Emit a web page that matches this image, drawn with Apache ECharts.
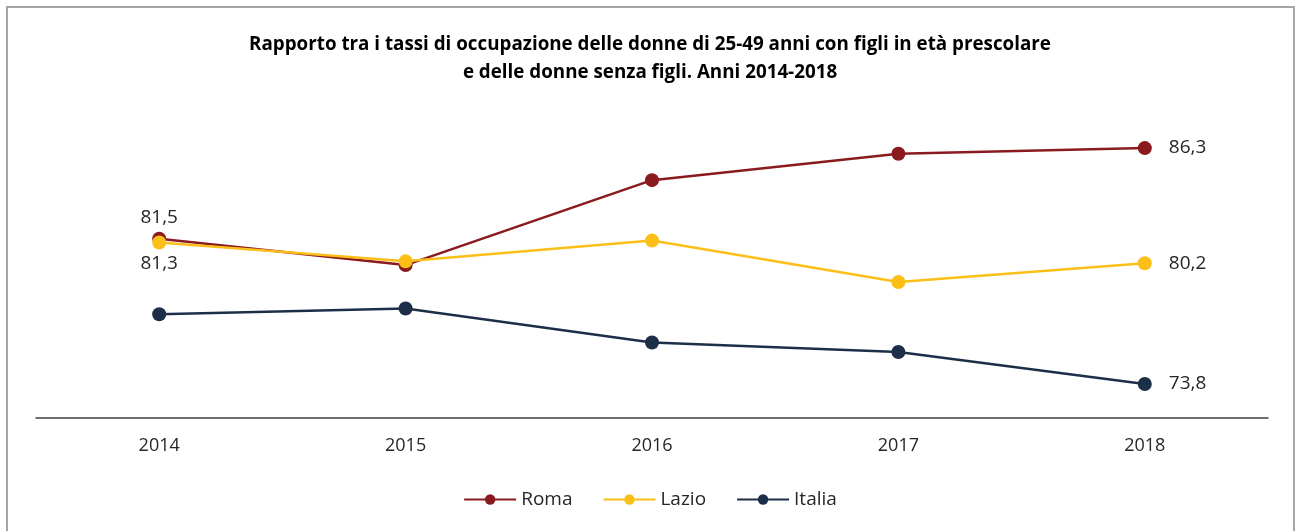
<!DOCTYPE html>
<html>
<head>
<meta charset="utf-8">
<script src="https://cdn.jsdelivr.net/npm/echarts@6/dist/echarts.min.js"></script>
<style>
  html, body { margin: 0; padding: 0; background: #fff; }
  #chart { width: 1300px; height: 531px; }
</style>
</head>
<body>
<div id="chart"></div>
<script>
// Employment-rate ratio, women 25-49 with preschool children vs. without children
const years = ['2014', '2015', '2016', '2017', '2018'];
const roma = [81.5, 80.1, 84.6, 86.0, 86.3];
const lazio = [81.3, 80.3, 81.4, 79.2, 80.2];
const italia = [77.5, 77.8, 76.0, 75.5, 73.8];
const titleLines = [
  'Rapporto tra i tassi di occupazione delle donne di 25-49 anni con figli in età prescolare',
  'e delle donne senza figli. Anni 2014-2018'
];

const FONT = '"Open Sans", sans-serif';
const fmt = v => v.toFixed(1).replace('.', ',');

// which points carry a value label, and where
function labelled(values, firstPos) {
  return values.map((v, i) => {
    const item = { value: v };
    if (i === values.length - 1) {
      item.label = { show: true, position: 'right', distance: 17 };
    } else if (i === 0 && firstPos) {
      item.label = { show: true, position: firstPos, distance: 5 };
    }
    return item;
  });
}

const labelStyle = {
  show: false,
  formatter: p => fmt(p.value),
  fontFamily: FONT,
  fontSize: 19,
  color: '#262626'
};

function line(name, color, values, firstPos) {
  return {
    name: name,
    type: 'line',
    data: labelled(values, firstPos),
    symbol: 'circle',
    symbolSize: 14,
    lineStyle: { color: color, width: 2.5 },
    itemStyle: { color: color },
    label: labelStyle,
    emphasis: { disabled: true },
    z: 3
  };
}

const chart = echarts.init(document.getElementById('chart'), null, { renderer: 'canvas' });
chart.setOption({
  animation: false,
  backgroundColor: '#fff',
  graphic: [{
    type: 'rect',
    shape: { x: 7, y: 7, width: 1287, height: 540 },
    style: { fill: 'none', stroke: '#a6a6a6', lineWidth: 2 },
    silent: true
  }],
  title: titleLines.map((t, i) => ({
    text: t,
    left: 'center',
    top: 30 + i * 28,
    textStyle: {
      fontFamily: FONT,
      fontWeight: 'bold',
      fontSize: 18.8,
      color: '#000'
    }
  })),
  legend: {
    bottom: 17,
    left: 'center',
    itemWidth: 52,
    itemHeight: 13,
    itemGap: 30,
    textStyle: { fontFamily: FONT, fontSize: 19, color: '#262626' },
    data: ['Roma', 'Lazio', 'Italia']
  },
  grid: { left: 36, right: 32, top: 116, bottom: 113, containLabel: false },
  xAxis: {
    type: 'category',
    data: years,
    boundaryGap: true,
    axisLine: { lineStyle: { color: '#404040', width: 1.5 } },
    axisTick: { show: false },
    axisLabel: {
      fontFamily: FONT,
      fontSize: 18,
      color: '#262626',
      margin: 19
    }
  },
  yAxis: {
    type: 'value',
    min: 72,
    max: 88,
    show: false,
    splitLine: { show: false }
  },
  series: [
    line('Roma', '#8b1a1f', roma, 'top'),
    line('Lazio', '#fbbf18', lazio, 'bottom'),
    line('Italia', '#1d2f48', italia, null)
  ]
});
</script>
</body>
</html>
